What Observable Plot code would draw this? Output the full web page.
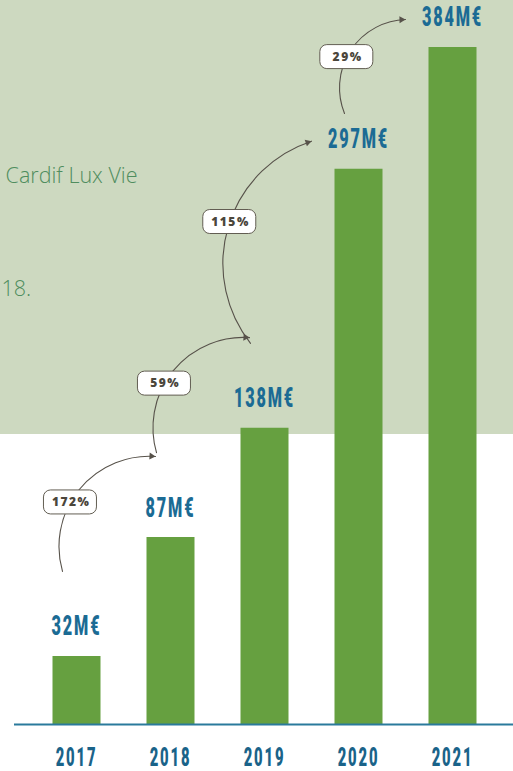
<!DOCTYPE html>
<html><head><meta charset="utf-8">
<script src="https://cdn.jsdelivr.net/npm/d3@7"></script>
<script src="https://cdn.jsdelivr.net/npm/@observablehq/plot@0.6"></script>
<style>
html,body{margin:0;padding:0;background:#fff;}
#chart svg{display:block;}
</style></head><body><div id="chart"></div>
<script>
// ---- data ----
const years = [2017, 2018, 2019, 2020, 2021];
const revenue = [32, 87, 138, 297, 384];          // M€, as labelled
// bar lengths as drawn (the original chart is not to scale), in the chart's M€ units
const barLength = [38.6, 106, 168, 315, 384];
const growth = [172, 59, 115, 29];                // % year-on-year
const introTexts = ["Cardif Lux Vie", "18."];

const green = "#66a040", blue = "#1b6b94", yearBlue = "#1a6389", ink = "#57524a";
const data = years.map((year, i) => ({year, revenue: revenue[i], len: barLength[i]}));

const xOpts = {domain: [d3.min(years), d3.max(years)], range: [76, 452]};
const yOpts = {domain: [0, d3.max(barLength)], range: [724, 47]};
const X = Plot.scale({x: xOpts}), Y = Plot.scale({y: yOpts});

// ---- growth arrows, laid out from the bars ----
const bendDeg = 55, bend = bendDeg * Math.PI / 180;
const pos = data.map(d => ({cx: X.apply(d.year), top: Y.apply(d.len)}));
const highestLabel = Y.apply(d3.max(barLength)) - 28;
const arrows = growth.map((g, i) => {
  const a = pos[i], b = pos[i + 1];
  const ey = Math.max(highestLabel, Math.min(b.top - 28, a.top - 200));
  const ex = b.cx - 47 + 32 * Math.min(1, Math.max(0, (b.top - 28 - ey) / 40));
  const sy = Math.max(a.top - 85, ey + 94);
  const sx = a.cx - 14;
  const dx = ex - sx, dy = ey - sy, L = Math.hypot(dx, dy), ang = Math.atan2(dy, dx);
  const r = L / (2 * Math.sin(bend)), h = r * Math.cos(bend);
  const ccx = (sx + ex) / 2 - dy / L * h, ccy = (sy + ey) / 2 + dx / L * h;
  // label box sits on the left branch of the arc, 60% of the way up
  const by = sy + 0.6 * (ey - sy);
  const bx = ccx - Math.sqrt(Math.max(0, r * r - (by - ccy) ** 2));
  const endDir = ang + bend;
  const hx = ex - 4 * Math.cos(endDir), hy = ey - 4 * Math.sin(endDir);
  return {g,
    x1: X.invert(sx), y1: Y.invert(sy), x2: X.invert(ex), y2: Y.invert(ey),
    bx: X.invert(bx), by: Y.invert(by), hx: X.invert(hx), hy: Y.invert(hy),
    rot: endDir * 180 / Math.PI + 90};
});

const chart = Plot.plot({
  width: 513, height: 771,
  marginLeft: 14, marginRight: 0, marginTop: 0, marginBottom: 47,
  x: {...xOpts, axis: null},
  y: {...yOpts, axis: null},
  style: {background: "linear-gradient(#cdd9c0 0px, #cdd9c0 434px, #ffffff 434px, #ffffff 100%)", overflow: "visible"},
  marks: [
    Plot.text([introTexts[0]], {frameAnchor: "top-left", dx: 123, dy: 182, textAnchor: "end", lineAnchor: "bottom",
      fontSize: 21.5, fontFamily: "Open Sans", fontWeight: 300, fill: "#4f8d5e"}),
    Plot.text([introTexts[1]], {frameAnchor: "top-left", dx: -13, dy: 295, textAnchor: "start", lineAnchor: "bottom",
      fontSize: 21.5, fontFamily: "Open Sans", fontWeight: 300, fill: "#4f8d5e"}),
    Plot.ruleX(data, {x: "year", y1: 0, y2: "len", stroke: green, strokeWidth: 48}),
    Plot.ruleY([0], {stroke: "#2a7a9c", strokeWidth: 2}),
    Plot.text(data, {x: "year", y: "len", dy: -30, text: d => d.revenue + "M€", lineAnchor: "middle",
      fontFamily: "Roboto", fontWeight: 900, fontSize: 28, fill: blue}),
    Plot.text(data, {x: "year", frameAnchor: "bottom", dy: 33, lineAnchor: "middle", text: d => String(d.year),
      fontFamily: "Roboto", fontWeight: 900, fontSize: 25.5, fill: yearBlue}),
    Plot.arrow(arrows, {x1: "x1", y1: "y1", x2: "x2", y2: "y2", bend: bendDeg, headLength: 0,
      stroke: ink, strokeWidth: 1.1}),
    Plot.dot(arrows, {x: "hx", y: "hy", symbol: "triangle", r: 2.6, rotate: "rot", fill: ink, stroke: "none"}),
    Plot.rect(arrows, {x1: "bx", x2: "bx", y1: "by", y2: "by", insetLeft: -26.5, insetRight: -26.5,
      insetTop: -12, insetBottom: -12, rx: 7, fill: "white", stroke: "#625d52", strokeWidth: 1}),
    Plot.text(arrows, {x: "bx", y: "by", dx: 0.75, text: d => d.g + "%", fontFamily: "Open Sans",
      fontWeight: 800, fontSize: 12, fill: "#4b463b"})
  ]
});

for (const t of chart.querySelectorAll('g[font-family="Roboto"] text')) {
  t.setAttribute("transform", (t.getAttribute("transform") || "") + " scale(0.58,1)");
  t.setAttribute("letter-spacing", "3.2");
}
for (const t of chart.querySelectorAll('g[font-weight="800"] text')) {
  t.setAttribute("letter-spacing", "1.5");
}
document.getElementById("chart").appendChild(chart);
</script></body></html>
